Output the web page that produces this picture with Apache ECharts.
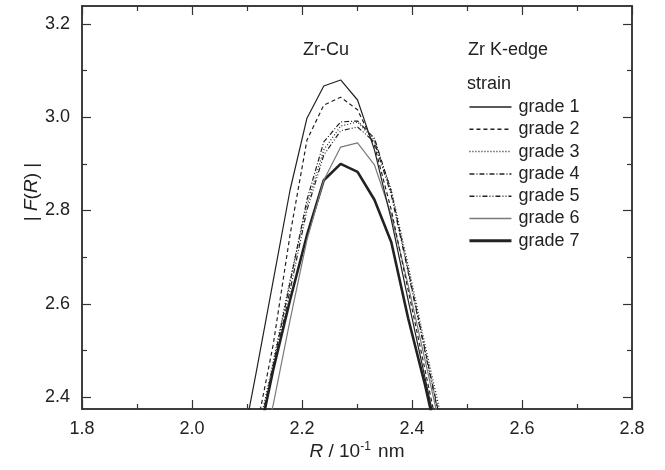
<!DOCTYPE html>
<html>
<head>
<meta charset="utf-8">
<script src="https://cdn.jsdelivr.net/npm/echarts@6/dist/echarts.min.js"></script>
<style>
  html, body { margin: 0; padding: 0; background: #fff; }
  #chart { width: 665px; height: 470px; }
</style>
</head>
<body>
<div id="chart"></div>
<script>
// R grid (10^-1 nm)
var rArr = [2.0862, 2.1169, 2.1476, 2.1783, 2.2090, 2.2396, 2.2703, 2.3010, 2.3317, 2.3624, 2.3930, 2.4237, 2.4544];
// |F(R)| for each strain grade
var grade1 = [2.265, 2.454, 2.649, 2.844, 2.998, 3.067, 3.080, 3.037, 2.930, 2.780, 2.608, 2.441, 2.276];
var grade2 = [2.150, 2.329, 2.512, 2.748, 2.951, 3.026, 3.043, 3.016, 2.940, 2.801, 2.629, 2.458, 2.286];
var grade3 = [2.140, 2.308, 2.475, 2.651, 2.812, 2.930, 2.981, 2.990, 2.951, 2.844, 2.683, 2.512, 2.351];
var grade4 = [2.130, 2.297, 2.469, 2.645, 2.823, 2.947, 2.990, 2.992, 2.955, 2.840, 2.672, 2.501, 2.334];
var grade5 = [2.120, 2.286, 2.458, 2.629, 2.801, 2.919, 2.971, 2.979, 2.947, 2.833, 2.668, 2.497, 2.329];
var grade6 = [2.080, 2.243, 2.383, 2.565, 2.737, 2.865, 2.936, 2.945, 2.898, 2.790, 2.640, 2.479, 2.318];
var grade7 = [2.110, 2.286, 2.458, 2.608, 2.747, 2.865, 2.900, 2.883, 2.823, 2.732, 2.569, 2.426, 2.265];

var names = ['grade 1', 'grade 2', 'grade 3', 'grade 4', 'grade 5', 'grade 6', 'grade 7'];
var grades = [grade1, grade2, grade3, grade4, grade5, grade6, grade7];

// ticks
var xMajor = [1.8, 2.0, 2.2, 2.4, 2.6, 2.8];
var xMinor = [1.9, 2.1, 2.3, 2.5, 2.7];
var yMajor = [2.4, 2.6, 2.8, 3.0, 3.2];
var yMinor = [2.5, 2.7, 2.9, 3.1];

var ink = '#222';
var font = 'Liberation Sans, Arial, sans-serif';

var styles = [
    { type: 'solid', width: 1.2, color: ink },
    { type: [4, 3], width: 1.2, color: ink },
    { type: [1, 2], width: 1.2, color: ink },
    { type: [5, 2, 1, 2], width: 1.2, color: ink },
    { type: [5, 2, 1, 2, 1, 2], width: 1.2, color: ink },
    { type: 'solid', width: 1.2, color: '#7a7a7a' },
    { type: 'solid', width: 2.6, color: ink }
];

function pairs(ys) {
    var out = [];
    for (var i = 0; i < rArr.length; i++) {
        out.push([rArr[i], ys[i]]);
    }
    return out;
}

function xAx(pos, ticks, len, labels) {
    return {
        type: 'value', position: pos, min: 1.8, max: 2.8,
        axisLine: { show: true, onZero: false, lineStyle: { color: '#333', width: 1.5 } },
        axisTick: { show: true, inside: true, length: len, customValues: ticks, lineStyle: { color: '#333', width: 1.2 } },
        axisLabel: labels ? {
            show: true, customValues: ticks, margin: 11, color: ink, fontSize: 18, fontFamily: font,
            formatter: function (v) { return v.toFixed(1); }
        } : { show: false },
        splitLine: { show: false }
    };
}

function yAx(pos, ticks, len, labels) {
    return {
        type: 'value', position: pos, min: 2.3743, max: 3.2386,
        axisLine: { show: true, onZero: false, lineStyle: { color: '#333', width: 1.5 } },
        axisTick: { show: true, inside: true, length: len, customValues: ticks, lineStyle: { color: '#333', width: 1.2 } },
        axisLabel: labels ? {
            show: true, customValues: ticks, margin: 12, color: ink, fontSize: 18, fontFamily: font,
            formatter: function (v) { return v.toFixed(1); }
        } : { show: false },
        splitLine: { show: false }
    };
}

var series = [];
var legendData = [];
for (var i = 0; i < grades.length; i++) {
    series.push({
        name: names[i],
        type: 'line',
        xAxisIndex: 0,
        yAxisIndex: 0,
        data: pairs(grades[i]),
        symbol: 'none',
        lineStyle: styles[i],
        itemStyle: { color: styles[i].color },
        z: 10 - i,
        animation: false
    });
    legendData.push({ name: names[i], lineStyle: { width: styles[i].width + 0.3 } });
}

var myChart = echarts.init(document.getElementById('chart'));
var option = {
    animation: false,
    grid: { left: 82, right: 33, top: 6, bottom: 61 },
    xAxis: [
        xAx('bottom', xMajor, 9, true),
        xAx('bottom', xMinor, 5, false),
        xAx('top', xMajor, 9, false),
        xAx('top', xMinor, 5, false)
    ],
    yAxis: [
        yAx('left', yMajor, 9, true),
        yAx('left', yMinor, 5, false),
        yAx('right', yMajor, 9, false),
        yAx('right', yMinor, 5, false)
    ],
    legend: {
        data: legendData,
        orient: 'vertical',
        left: 463,
        top: 93,
        itemWidth: 42,
        itemHeight: 18,
        itemGap: 4.3,
        itemStyle: { opacity: 0 },
        textStyle: { fontSize: 18, fontFamily: font, color: ink, padding: [0, 0, 0, 2] },
        selectedMode: false
    },
    graphic: [
        { type: 'text', left: 303, top: 41, style: { text: 'Zr-Cu', fontSize: 18, fontFamily: font, fill: ink } },
        { type: 'text', left: 468, top: 41, style: { text: 'Zr K-edge', fontSize: 18, fontFamily: font, fill: ink } },
        { type: 'text', left: 467, top: 75, style: { text: 'strain', fontSize: 18, fontFamily: font, fill: ink } },
        {
            type: 'text', x: 32, y: 192, rotation: Math.PI / 2,
            style: {
                text: '{n|| }{i|F}{n|(}{i|R}{n|) |}',
                align: 'center', verticalAlign: 'middle',
                fill: ink,
                rich: {
                    n: { fontSize: 19, fontFamily: font, fill: ink },
                    i: { fontSize: 19, fontFamily: font, fontStyle: 'italic', fill: ink }
                }
            }
        },
        {
            type: 'text', x: 357, y: 452,
            style: {
                text: '{i|R}{n| / 10}{s|-1}{n| nm}',
                align: 'center', verticalAlign: 'middle',
                fill: ink,
                rich: {
                    i: { fontSize: 19, fontFamily: font, fontStyle: 'italic', fill: ink, lineHeight: 22 },
                    n: { fontSize: 19, fontFamily: font, fill: ink, lineHeight: 22 },
                    s: { fontSize: 12, fontFamily: font, fill: ink, verticalAlign: 'top', lineHeight: 22, padding: [0, 2, 0, 0] }
                }
            }
        }
    ],
    series: series
};
myChart.setOption(option);
</script>
</body>
</html>
